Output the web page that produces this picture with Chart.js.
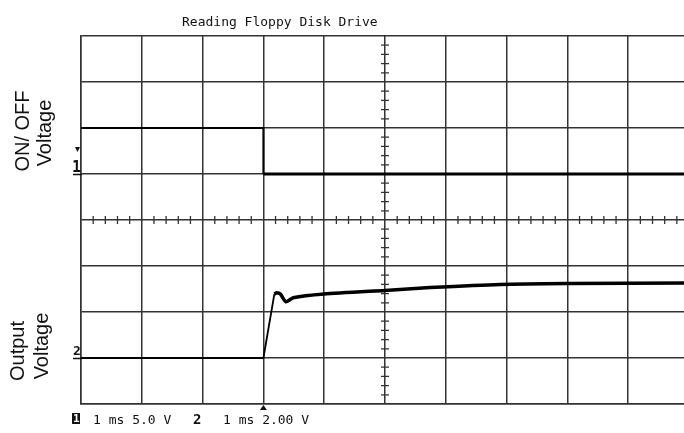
<!DOCTYPE html>
<html>
<head>
<meta charset="utf-8">
<title>Reading Floppy Disk Drive</title>
<script src="https://cdn.jsdelivr.net/npm/chart.js@4"></script>
<style>
  html, body { margin: 0; padding: 0; background: #fff; overflow: hidden; }
  #wrap { width: 700px; height: 433px; }
</style>
</head>
<body>
<div id="wrap"><canvas id="scope" width="700" height="433"></canvas></div>
<script>
// channel 1: ON/OFF voltage (5.0 V/div), time in ms
const ch1Time = [0, 3.0, 3.0, 10];
const ch1Volts = [5, 5, 0, 0];
// channel 2: output voltage (2.00 V/div)
const ch2Time = [0, 3.0, 3.18, 3.22, 3.28, 3.37, 3.49, 4.0, 5.0, 5.74, 6.89, 8.0, 10];
const ch2Volts = [0, 0, 2.78, 2.84, 2.78, 2.44, 2.62, 2.78, 2.94, 3.06, 3.2, 3.24, 3.26];

const ch1VoltsPerDiv = 5.0, ch1Ground = 5; // ground marker in divisions from bottom
const ch2VoltsPerDiv = 2.0, ch2Ground = 1;
const triggerTime = 3.0;

const titleText = 'Reading Floppy Disk Drive';
const ch1Label = ['ON/ OFF', 'Voltage'];
const ch2Label = ['Output', 'Voltage'];
const ch1Scale = '1 ms 5.0 V';
const ch2Scale = '1 ms 2.00 V';

const mono = '"DejaVu Sans Mono", monospace';
const sans = '"Liberation Sans", Arial, sans-serif';
const gridColor = '#333';

function toDiv(times, volts, perDiv, ground) {
  return times.map((t, i) => ({ x: t, y: ground + volts[i] / perDiv }));
}
const ch1Points = toDiv(ch1Time, ch1Volts, ch1VoltsPerDiv, ch1Ground);
const ch2Points = toDiv(ch2Time, ch2Volts, ch2VoltsPerDiv, ch2Ground);
const settleIdx = 2;

const scopeDecor = {
  id: 'scopeDecor',
  beforeDatasetsDraw(chart) {
    const { ctx, scales: { x, y } } = chart;
    ctx.save();
    ctx.strokeStyle = gridColor;
    ctx.lineWidth = 1.3;
    const cx = x.getPixelForValue(5), cy = y.getPixelForValue(4);
    ctx.beginPath();
    for (let i = 0; i <= 50; i++) {
      if (i % 5 === 0) continue;
      const px = x.getPixelForValue(i / 5);
      ctx.moveTo(px, cy - 4); ctx.lineTo(px, cy + 4);
    }
    for (let i = 0; i <= 40; i++) {
      if (i % 5 === 0) continue;
      const py = y.getPixelForValue(i / 5);
      ctx.moveTo(cx - 4, py); ctx.lineTo(cx + 4, py);
    }
    ctx.stroke();
    ctx.restore();
  },
  afterDraw(chart) {
    const { ctx, scales: { x, y } } = chart;
    ctx.save();
    ctx.fillStyle = '#111';
    ctx.strokeStyle = '#111';

    // title
    ctx.font = '13px ' + mono;
    ctx.textAlign = 'left';
    ctx.textBaseline = 'alphabetic';
    ctx.fillText(titleText, 182, 26);

    // rotated channel labels
    ctx.font = '20px ' + sans;
    ctx.textAlign = 'center';
    const rot = (txt, bx, cy) => {
      ctx.save();
      ctx.translate(bx, cy);
      ctx.rotate(-Math.PI / 2);
      ctx.fillText(txt, 0, 0);
      ctx.restore();
    };
    rot(ch1Label[0], 29, 131);
    rot(ch1Label[1], 51, 133);
    rot(ch2Label[0], 24, 351);
    rot(ch2Label[1], 48, 346);

    // ground markers
    const g1 = y.getPixelForValue(ch1Ground), g2 = y.getPixelForValue(ch2Ground);
    ctx.font = 'bold 15px ' + mono;
    ctx.textAlign = 'left';
    ctx.fillText('1', 72, g1 - 2);
    ctx.font = 'bold 13px ' + mono;
    ctx.fillText('2', 73, g2 - 3);
    ctx.beginPath();
    ctx.moveTo(75, g1 - 27); ctx.lineTo(80, g1 - 27); ctx.lineTo(77.5, g1 - 22);
    ctx.closePath(); ctx.fill();
    ctx.lineWidth = 1.5;
    ctx.beginPath();
    ctx.moveTo(73, g1 + 0.5); ctx.lineTo(82, g1 + 0.5);
    ctx.moveTo(73, g2 + 0.5); ctx.lineTo(82, g2 + 0.5);
    ctx.stroke();

    // trigger marker
    const tx = x.getPixelForValue(triggerTime);
    const bottom = chart.chartArea.bottom;
    ctx.beginPath();
    ctx.moveTo(tx - 3.5, bottom + 6); ctx.lineTo(tx + 3.5, bottom + 6); ctx.lineTo(tx, bottom + 1);
    ctx.closePath(); ctx.fill();

    // bottom scale readout
    ctx.fillRect(72, 413, 8, 11);
    ctx.fillStyle = '#fff';
    ctx.font = 'bold 11px ' + mono;
    ctx.fillText('1', 73, 422);
    ctx.fillStyle = '#111';
    ctx.font = '13px ' + mono;
    ctx.fillText(ch1Scale, 93, 424);
    ctx.font = 'bold 14px ' + mono;
    ctx.fillText('2', 193, 424);
    ctx.font = '13px ' + mono;
    ctx.fillText(ch2Scale, 223, 424);
    ctx.restore();
  }
};

new Chart(document.getElementById('scope'), {
  type: 'line',
  data: {
    datasets: [
      {
        label: 'ON/OFF (high)',
        data: ch1Points.slice(0, 3),
        borderColor: '#000',
        borderWidth: 2,
        pointRadius: 0,
        tension: 0
      },
      {
        label: 'ON/OFF (low)',
        data: ch1Points.slice(2),
        borderColor: '#000',
        borderWidth: 3,
        pointRadius: 0,
        tension: 0
      },
      {
        label: 'Output (rise)',
        data: ch2Points.slice(0, settleIdx + 1),
        borderColor: '#000',
        borderWidth: 1.8,
        pointRadius: 0,
        tension: 0
      },
      {
        label: 'Output',
        data: ch2Points.slice(settleIdx),
        borderColor: '#000',
        borderWidth: 3.5,
        pointRadius: 0,
        tension: 0.2
      }
    ]
  },
  options: {
    responsive: false,
    animation: false,
    layout: { padding: { left: 81, top: 36, right: 11, bottom: 29 } },
    plugins: { legend: { display: false }, tooltip: { enabled: false } },
    scales: {
      x: {
        type: 'linear', min: 0, max: 10,
        ticks: { display: false, stepSize: 1 },
        grid: { color: gridColor, lineWidth: 1.5, drawTicks: false },
        border: { color: gridColor, width: 1.5 },
        afterFit(s) { s.height = 0; }
      },
      y: {
        min: 0, max: 8,
        ticks: { display: false, stepSize: 1 },
        grid: { color: gridColor, lineWidth: 1.5, drawTicks: false },
        border: { color: gridColor, width: 1.5 },
        afterFit(s) { s.width = 0; }
      }
    }
  },
  plugins: [scopeDecor]
});
</script>
</body>
</html>
